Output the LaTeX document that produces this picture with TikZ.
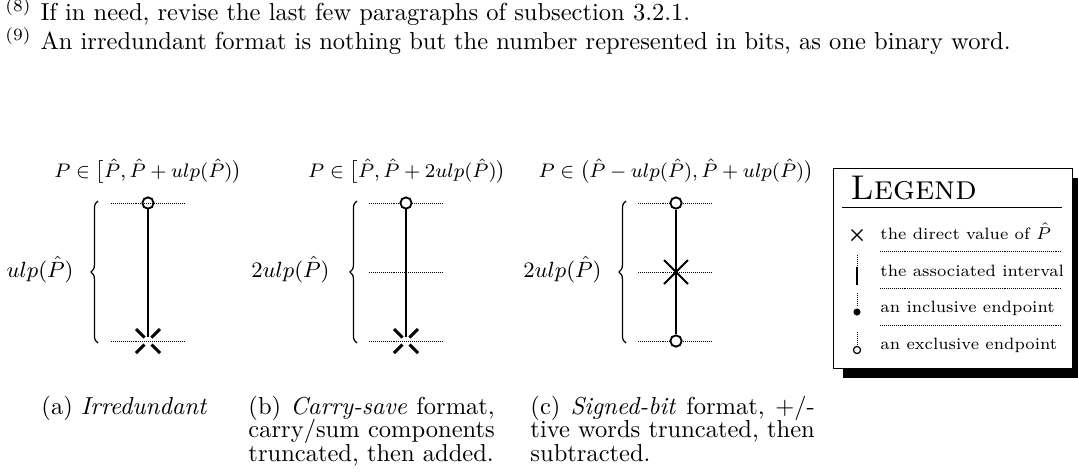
\documentclass[tikz,border=0pt]{standalone}
\usepackage{amsmath,amssymb}
\usepackage{tikz}
\usetikzlibrary{decorations.pathreplacing,calc}

\tikzset{
  guide/.style={line width=0.35pt, dash pattern=on 0.35pt off 0.45pt},
  ival/.style={line width=0.75pt},
  openend/.style={circle, draw, fill=white, line width=0.75pt, inner sep=0pt, minimum size=4.6pt},
  fullend/.style={circle, fill=black, inner sep=0pt, minimum size=2.9pt},
  hatx/.style={line width=1.2pt},
  ulpbrace/.style={decorate, decoration={brace, amplitude=2.9pt}, line width=0.5pt},
  toplabel/.style={font=\fontsize{7.7}{9}\selectfont, anchor=base, inner sep=0pt},
  sidelabel/.style={font=\fontsize{9}{11}\selectfont, anchor=base east, inner sep=0pt},
  capline/.style={font=\fontsize{10}{12}\selectfont, anchor=base west, inner sep=0pt},
  legline/.style={font=\fontsize{6.7}{8}\selectfont, anchor=base west, inner sep=0pt},
}

\begin{document}
\begin{tikzpicture}[x=0.408pt, y=-0.408pt]
  \useasboundingbox (0,0) rectangle (1078,473);

  % footnotes
  \node[capline] (fn8) at (5,20) {\makebox[14.3pt][l]{\textsuperscript{(8)}}If in need, revise the last few paragraphs of subsection 3.2.1.};
  \node[capline] (fn9) at (5,49) {\makebox[14.3pt][l]{\textsuperscript{(9)}}An irredundant format is nothing but the number represented in bits, as one binary word.};

  % (a) irredundant
  \node[toplabel] (pa) at (148,177) {$P \in \bigl[\hat{P}, \hat{P} + ulp(\hat{P})\bigr)$};
  \coordinate (atop) at (148,203);
  \coordinate (abot) at (148,341);
  \draw[ival] (atop) -- ($(abot)+(0,-4)$);
  \node[openend] (aopen) at (atop) {};
  \draw[guide] (111,203) -- (184,203);
  \draw[guide] (111,341) -- (184,341);
  \foreach \sx/\sy in {1/1,1/-1,-1/1,-1/-1}
    \draw[hatx] ($(abot)+(3.5*\sx,3.5*\sy)$) -- ($(abot)+(12*\sx,12*\sy)$);
  \draw[ulpbrace] (98,343) -- (98,201);
  \node[sidelabel] (ua) at (74,277) {$ulp(\hat{P})$};

  % (b) carry-save
  \node[toplabel] (pb) at (407,177) {$P \in \bigl[\hat{P}, \hat{P} + 2ulp(\hat{P})\bigr)$};
  \coordinate (btop) at (406,203);
  \coordinate (bbot) at (406,341);
  \foreach \y in {203,272,341}
    \draw[guide] (369,\y) -- (442,\y);
  \draw[ival] (btop) -- ($(bbot)+(0,-4)$);
  \node[openend] (bopen) at (btop) {};
  \foreach \sx/\sy in {1/1,1/-1,-1/1,-1/-1}
    \draw[hatx] ($(bbot)+(3.5*\sx,3.5*\sy)$) -- ($(bbot)+(12*\sx,12*\sy)$);
  \draw[ulpbrace] (357,343) -- (357,201);
  \node[sidelabel] (ub) at (330,277) {$2ulp(\hat{P})$};

  % (c) signed-bit
  \node[toplabel] (pc) at (676,177) {$P \in \bigl(\hat{P} - ulp(\hat{P}), \hat{P} + ulp(\hat{P})\bigr)$};
  \coordinate (cmid) at (676,272);
  \foreach \y in {203,272,341}
    \draw[guide] (638,\y) -- (712,\y);
  \node[openend] (ctop) at (676,203) {};
  \node[openend] (cbot) at (676,341) {};
  \draw[ival] (ctop) -- (cbot);
  \draw[line width=0.8pt] ($(cmid)+(-12,-12)$) -- ($(cmid)+(12,12)$);
  \draw[line width=0.8pt] ($(cmid)+(-12,12)$) -- ($(cmid)+(12,-12)$);
  \draw[ulpbrace] (626,343) -- (626,201);
  \node[sidelabel] (uc) at (602,277) {$2ulp(\hat{P})$};

  % legend
  \draw[line width=0.4pt, fill=white] (833,168) rectangle (1072,368);
  \fill (1072,178) rectangle (1082,378);
  \fill (843,368) rectangle (1082,378);
  \node[anchor=base west, inner sep=0pt, font=\fontsize{14}{16}\selectfont] (legtitle) at (850,199) {\textsc{Legend}};
  \draw[line width=0.5pt] (842,207.5) -- (1062,207.5);
  \node[legline] (leg1) at (880,239) {the direct value of $\hat{P}$};
  \node[legline] (leg2) at (880,276) {the associated interval};
  \node[legline] (leg3) at (880,312) {an inclusive endpoint};
  \node[legline] (leg4) at (880,349) {an exclusive endpoint};
  \foreach \y in {251,288,325}
    \draw[guide, line width=0.3pt] (880,\y) -- (1062,\y);
  \draw[line width=0.5pt] (851.5,229.5) -- (862.5,240.5) (851.5,240.5) -- (862.5,229.5);
  \draw[guide] (857,255) -- (857,267);
  \draw[line width=0.6pt] (857,267) -- (857,285);
  \draw[guide] (857,293) -- (857,306);
  \node[fullend] (incl) at (857,312) {};
  \draw[guide] (857,332) -- (857,345);
  \node[openend, minimum size=2.9pt, line width=0.5pt] (excl) at (857,350) {};

  % captions
  \node[capline] (capa) at (41,414) {(a) \textit{Irredundant}};
  \node[capline] (capb1) at (248,414) {\makebox[100.5pt][s]{(b) \textit{Carry-save} format,}};
  \node[capline] (capb2) at (248,437.5) {\makebox[100.5pt][s]{carry/sum components}};
  \node[capline] (capb3) at (248,461) {truncated, then added.};
  \node[capline] (capc1) at (530,414) {\makebox[116pt][s]{(c) \textit{Signed-bit} format, +/-}};
  \node[capline] (capc2) at (530,437.5) {\makebox[116pt][s]{tive words truncated, then}};
  \node[capline] (capc3) at (530,461) {subtracted.};
\end{tikzpicture}
\end{document}
